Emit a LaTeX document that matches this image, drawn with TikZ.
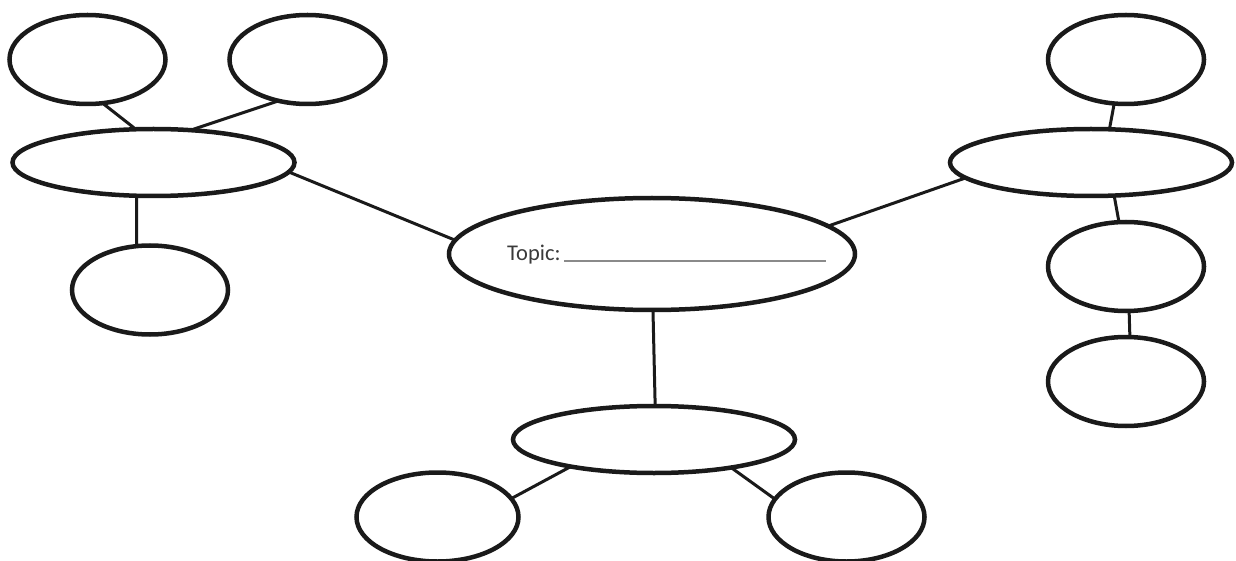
\documentclass[tikz,border=0pt]{standalone}
\usepackage{fontspec}
\setmainfont{Carlito}
\usetikzlibrary{shapes.geometric}
\definecolor{ink}{HTML}{1A1A1A}
\definecolor{txt}{HTML}{3A3A3A}
\definecolor{rule}{HTML}{8A8A8A}
\tikzset{
  bubble/.style={ellipse, draw=ink, line width=4.5pt, inner sep=0pt, outer sep=0pt},
  small/.style={bubble, minimum width=156pt, minimum height=89pt},
  wide/.style={bubble, minimum width=282pt, minimum height=67pt},
  link/.style={draw=ink, line width=3pt}
}
\begin{document}
\begin{tikzpicture}[x=1pt,y=-1pt]
\useasboundingbox (0,0) rectangle (1236,561);
% centre
\node[bubble, minimum width=406pt, minimum height=112pt] (c) at (652,254) {};
% left group
\node[small] (l1) at (87.5,59.5) {};
\node[small] (l2) at (307.5,59.5) {};
\node[wide] (lw) at (153.5,162.5) {};
\node[small] (l3) at (150,290) {};
% right group
\node[small] (r1) at (1126,59.5) {};
\node[wide] (rw) at (1091,162.5) {};
\node[small] (r2) at (1126,266.5) {};
\node[small] (r3) at (1126,381.5) {};
% bottom group
\node[wide] (bw) at (654,439.5) {};
\node[small, minimum width=162pt] (b1) at (437.5,517) {};
\node[small] (b2) at (846.5,517) {};
% text
\node[anchor=base west, inner sep=0pt, text=txt, font=\fontsize{22.5}{27}\selectfont] (topic) at (507,261) {Topic:};
\coordinate (ulA) at (564,261);
\coordinate (ulB) at (826,261);
\draw[rule, line width=1.5pt] (ulA) -- (ulB);
% connectors
\draw[link] (l1.-71.2) -- (lw.118.2);
\draw[link] (l2.-125) -- (lw.41.9);
\draw[link] (lw.-117.5) -- (l3.107.7);
\draw[link] (lw.-4.7) -- (c.176.5);
\draw[link] (c.9.8) -- (rw.-173.4);
\draw[link] (r1.-105.6) -- (rw.61.2);
\draw[link] (rw.-55.9) -- (r2.99.8);
\draw[link] (r2.-86.3) -- (r3.85.1);
\draw[link] (c.-89) -- (bw.88.3);
\draw[link] (bw.-162.8) -- (b1.14.7);
\draw[link] (bw.-20.2) -- (b2.166.6);
\end{tikzpicture}
\end{document}
